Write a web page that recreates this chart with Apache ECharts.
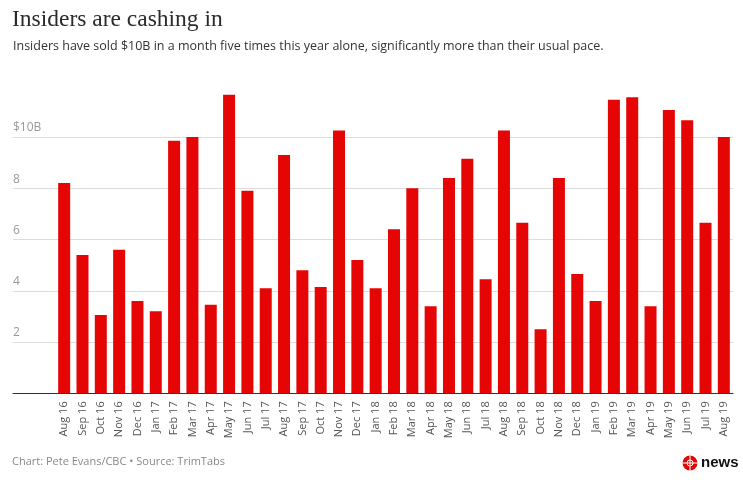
<!DOCTYPE html>
<html>
<head>
<meta charset="utf-8">
<script src="https://cdn.jsdelivr.net/npm/echarts@6/dist/echarts.min.js"></script>
<style>
html,body{margin:0;padding:0;background:#fff;}
#c{width:743px;height:484px;}
</style>
</head>
<body>
<div id="c"></div>
<script>
var months = ['Aug 16','Sep 16','Oct 16','Nov 16','Dec 16',
  'Jan 17','Feb 17','Mar 17','Apr 17','May 17','Jun 17','Jul 17','Aug 17','Sep 17','Oct 17','Nov 17','Dec 17',
  'Jan 18','Feb 18','Mar 18','Apr 18','May 18','Jun 18','Jul 18','Aug 18','Sep 18','Oct 18','Nov 18','Dec 18',
  'Jan 19','Feb 19','Mar 19','Apr 19','May 19','Jun 19','Jul 19','Aug 19'];
var insiderSales = [8.2,5.4,3.05,5.6,3.6,
  3.2,9.85,10.0,3.45,11.65,7.9,4.1,9.3,4.8,4.15,10.25,5.2,
  4.1,6.4,8.0,3.4,8.4,9.15,4.45,10.25,6.65,2.5,8.4,4.65,
  3.6,11.45,11.55,3.4,11.05,10.65,6.65,10.0];
var yTicks = {min:0, max:12, interval:2};

var chart = echarts.init(document.getElementById('c'), null, {renderer:'canvas'});
var gridTop = 85.7, gridBottom = 90.7;
chart.setOption({
  animation:false,
  title:[
    {text:'Insiders are cashing in', left:12, top:8, padding:0,
      textStyle:{fontFamily:'Liberation Serif', fontSize:23.5, fontWeight:'normal', color:'#2b2b2b'}},
    {text:'Insiders have sold $10B in a month five times this year alone, significantly more than their usual pace.',
      left:13, top:40, padding:0, textStyle:{fontFamily:'Open Sans', fontSize:12.5, fontWeight:'normal', color:'#333'}},
    {text:'Chart: Pete Evans/CBC \u2022 Source: TrimTabs', left:12, top:456, padding:0,
      textStyle:{fontFamily:'Open Sans', fontSize:11, fontWeight:'normal', color:'#888'}}
  ],
  grid:[
    {left:13, right:10, top:gridTop, bottom:gridBottom},
    {left:55, right:10, top:gridTop, bottom:gridBottom}
  ],
  xAxis:[
    {gridIndex:0, type:'value', min:0, max:1, axisLine:{show:true, lineStyle:{color:'#333', width:1}},
      axisTick:{show:false}, axisLabel:{show:false}, splitLine:{show:false}},
    {gridIndex:1, type:'category', data:months, axisLine:{show:false}, axisTick:{show:false},
      axisLabel:{rotate:90, interval:0, margin:8, fontFamily:'Open Sans', fontSize:11, color:'#555'}}
  ],
  yAxis:[
    {gridIndex:0, type:'value', min:yTicks.min, max:yTicks.max, interval:yTicks.interval,
      axisLine:{show:false}, axisTick:{show:false},
      splitLine:{show:true, showMinLine:false, showMaxLine:false, lineStyle:{color:'#dcdcdc', width:1}},
      axisLabel:{inside:true, margin:0, align:'left', verticalAlign:'bottom', padding:[0,0,3,0],
        showMinLabel:false, showMaxLabel:false,
        fontFamily:'Open Sans', fontSize:12, color:'#999',
        formatter:function(v){return v===10?'$10B':String(v);}}},
    {gridIndex:1, type:'value', min:yTicks.min, max:yTicks.max, interval:yTicks.interval, show:false}
  ],
  series:[{
    type:'bar', xAxisIndex:1, yAxisIndex:1, data:insiderSales, barWidth:12,
    itemStyle:{color:'#e60505'}, z:3
  }],
  graphic:[
    {type:'circle', shape:{cx:690, cy:463, r:7.5}, style:{fill:'#e60505'}},
    {type:'line', shape:{x1:690, y1:455, x2:690, y2:471}, style:{stroke:'#fff', lineWidth:1}},
    {type:'line', shape:{x1:682, y1:463, x2:698, y2:463}, style:{stroke:'#fff', lineWidth:1}},
    {type:'circle', shape:{cx:690, cy:463, r:3}, style:{fill:'none', stroke:'#fff', lineWidth:1}},
    {type:'text', left:701, top:455, style:{text:'news', fontFamily:'Liberation Sans', fontWeight:'bold', fontSize:15, fill:'#111'}}
  ]
});
</script>
</body>
</html>
